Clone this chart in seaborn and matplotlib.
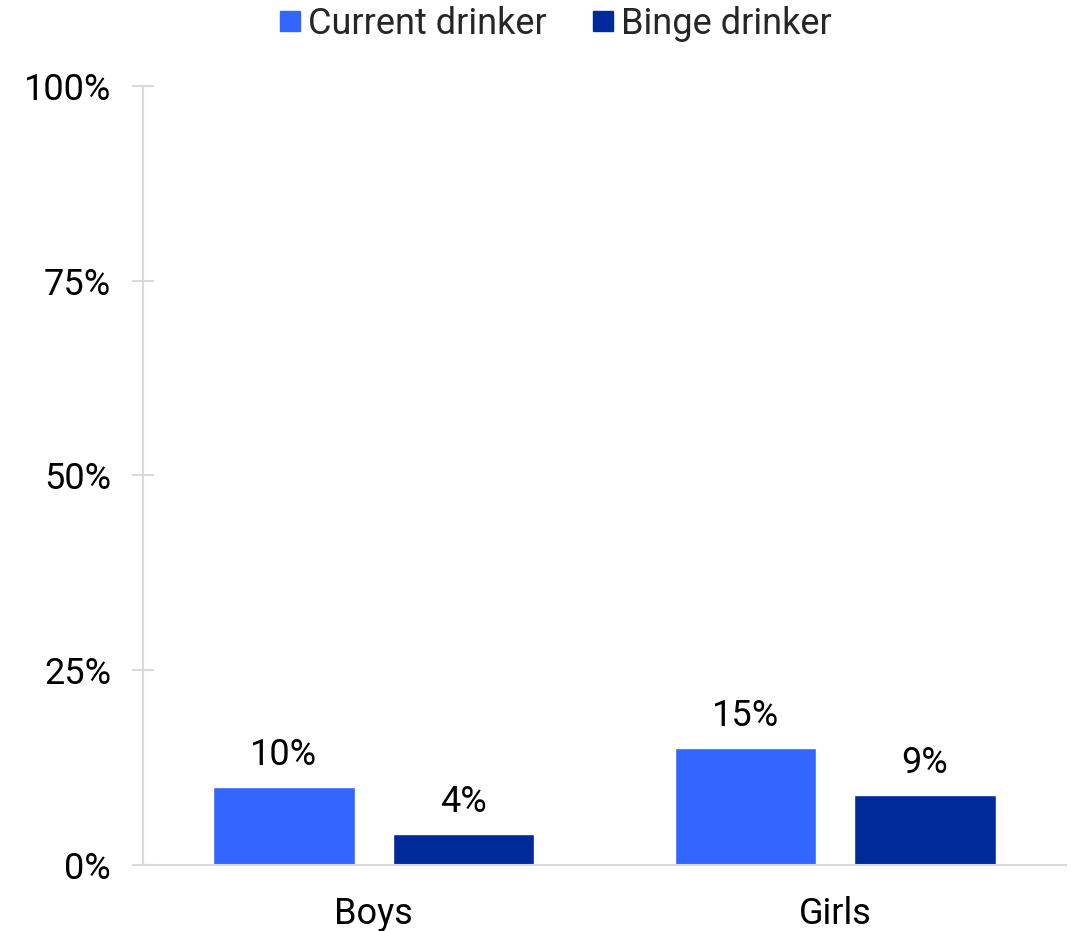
import pandas as pd
import seaborn as sns
import matplotlib.pyplot as plt
from matplotlib.lines import Line2D

# Data
groups = ["Boys", "Girls"]
series = ["Current drinker", "Binge drinker"]
current_vals = [10, 15]
binge_vals = [4, 9]
colors = ["#3366FF", "#00299A"]
y_ticks = [0, 25, 50, 75, 100]

df = pd.DataFrame({
    "Group": groups * 2,
    "Series": [series[0]] * 2 + [series[1]] * 2,
    "Value": current_vals + binge_vals,
})

sns.set_theme(style="white")
plt.rcParams["font.family"] = ["Roboto", "DejaVu Sans"]

fig = plt.figure(figsize=(10.73, 9.31), dpi=100)
ax = fig.add_axes([143 / 1073, 1 - 865 / 931, (1066 - 143) / 1073, (865 - 86) / 931])

sns.barplot(
    data=df, x="Group", y="Value", hue="Series",
    order=groups, hue_order=series, palette=colors,
    width=0.778, gap=0.21, saturation=1, ax=ax, legend=False,
)

# value labels above bars
for cont in ax.containers:
    ax.bar_label(cont, labels=[f"{v:.0f}%" for v in cont.datavalues],
                 padding=10, fontsize=26, color="black")

ax.set_ylim(0, 100)
ax.set_xlim(-0.5, 1.5)
ax.set_yticks(y_ticks)
ax.set_yticklabels([f"{t}%" for t in y_ticks])
ax.set_xlabel("")
ax.set_ylabel("")

grey = "#D9D9D9"
for side in ["top", "right"]:
    ax.spines[side].set_visible(False)
ax.spines["left"].set_color(grey)
ax.spines["bottom"].set_color(grey)
ax.spines["left"].set_linewidth(1.5)
ax.spines["bottom"].set_linewidth(1.5)

ax.tick_params(axis="y", direction="inout", length=16, width=1.5, color=grey,
               labelsize=26, labelcolor="black", pad=15, left=True)
ax.tick_params(axis="x", length=0, labelsize=26, labelcolor="black", pad=22)

handles = [Line2D([], [], marker="s", linestyle="none", markersize=15,
                  markerfacecolor=c, markeredgecolor=c) for c in colors]
fig.legend(handles, series, loc="upper center", bbox_to_anchor=(553 / 1073, 1.029),
           ncol=2, frameon=False, fontsize=26, handletextpad=0.05,
           columnspacing=1.1, handlelength=0.9)

fig.savefig("out.png", dpi=100)
